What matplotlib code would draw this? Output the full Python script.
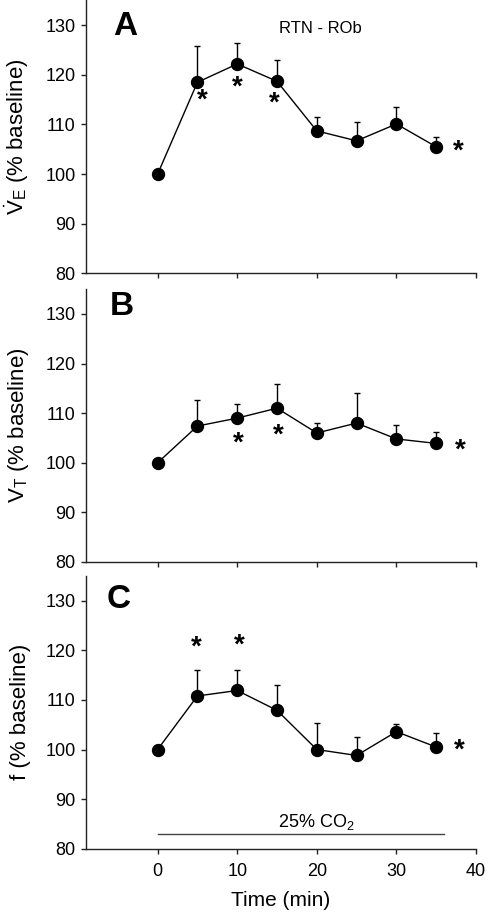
import matplotlib
matplotlib.use("Agg")
import matplotlib.pyplot as plt
import numpy as np

plt.rcParams['font.family'] = ['Liberation Sans', 'DejaVu Sans']
plt.rcParams['mathtext.fontset'] = 'custom'
plt.rcParams['mathtext.rm'] = 'Liberation Sans'
plt.rcParams['mathtext.it'] = 'Liberation Sans:italic'
plt.rcParams['mathtext.bf'] = 'Liberation Sans:bold'

# ---- data ----
time_min = [0, 5, 10, 15, 20, 25, 30, 35]

ve_mean = [100, 118.5, 122.2, 118.7, 108.7, 106.7, 110.1, 105.5]
ve_sem = [0, 7.4, 4.3, 4.2, 2.9, 3.8, 3.4, 1.9]

vt_mean = [100, 107.4, 109.0, 111.0, 106.0, 108.0, 104.8, 103.9]
vt_sem = [0, 5.3, 2.9, 4.9, 2.0, 6.1, 2.9, 2.2]

f_mean = [100, 110.8, 111.9, 107.9, 100.0, 98.8, 103.6, 100.5]
f_sem = [0, 5.2, 4.1, 5.1, 5.3, 3.7, 1.6, 2.8]

# significance markers (x, y) in data units
ve_star_x = [5.6, 10.0, 14.6, 37.8]
ve_star_y = [115.8, 118.5, 115.2, 105.6]
vt_star_x = [10.1, 15.2, 38.0]
vt_star_y = [104.8, 106.4, 103.4]
f_star_x = [4.9, 10.2, 37.85]
f_star_y = [121.5, 121.9, 100.7]

co2_start, co2_end, co2_level = 0, 36, 83
co2_label = r'25% CO$_2$'

x_ticks = [0, 10, 20, 30, 40]
y_ticks = [80, 90, 100, 110, 120, 130]

panels = [
    dict(letter='A', mean=ve_mean, sem=ve_sem, sx=ve_star_x, sy=ve_star_y,
         ylabel=r'$\dot{\mathrm{V}}_{\mathrm{E}}$ (% baseline)', lpos=(0.10, 0.905)),
    dict(letter='B', mean=vt_mean, sem=vt_sem, sx=vt_star_x, sy=vt_star_y,
         ylabel=r'$\mathrm{V}_{\mathrm{T}}$ (% baseline)', lpos=(0.091, 0.935)),
    dict(letter='C', mean=f_mean, sem=f_sem, sx=f_star_x, sy=f_star_y,
         ylabel='f (% baseline)', lpos=(0.083, 0.915)),
]

STAR_FS = 20

fig = plt.figure(figsize=(4.9, 9.13), dpi=100)
bottoms = [0.7007, 0.3845, 0.0704]
axes = []
for p, b in zip(panels, bottoms):
    ax = fig.add_axes([0.1755, b, 0.7959, 0.2988])
    axes.append(ax)
    lower = np.zeros(len(p['sem']))
    ax.errorbar(time_min, p['mean'], yerr=[lower, p['sem']], fmt='-o',
                color='black', lw=1.0, ms=8.6, elinewidth=1.0,
                capsize=2.3, capthick=1.0, zorder=3)
    for sx, sy in zip(p['sx'], p['sy']):
        ax.annotate('*', xy=(sx, sy), xytext=(0, -0.18 * STAR_FS),
                    textcoords='offset points', fontsize=STAR_FS,
                    fontweight='bold', ha='center', va='center')
    ax.set_xlim(-9, 40)
    ax.set_ylim(80, 135)
    ax.set_xticks(x_ticks)
    ax.set_yticks(y_ticks)
    for s in ['top', 'right']:
        ax.spines[s].set_visible(False)
    for s in ['left', 'bottom']:
        ax.spines[s].set_linewidth(1.0)
        ax.spines[s].set_color('#222222')
    ax.tick_params(direction='out', length=3.5, width=1.0, color='#222222',
                   labelsize=13)
    ax.tick_params(axis='y', pad=4)
    ax.tick_params(axis='x', pad=7)
    ax.set_ylabel(p['ylabel'], fontsize=16)
    ax.yaxis.set_label_coords(-0.14, 0.5)
    ax.text(p['lpos'][0], p['lpos'][1], p['letter'], transform=ax.transAxes,
            fontsize=24, fontweight='bold', ha='center', va='center')

axes[0].text(0.6, 0.898, 'RTN - ROb', transform=axes[0].transAxes,
             fontsize=12, ha='center', va='center')
axes[0].tick_params(axis='x', labelbottom=False)
axes[1].tick_params(axis='x', labelbottom=False)

axC = axes[2]
axC.plot([co2_start, co2_end], [co2_level, co2_level], color='#444444', lw=1.0)
axC.text(20, 84.4, co2_label, fontsize=13, ha='center', va='baseline')
axC.set_xlabel('Time (min)', fontsize=15)
axC.xaxis.set_label_coords(0.5, -0.155)

fig.savefig('out.png', dpi=100)
